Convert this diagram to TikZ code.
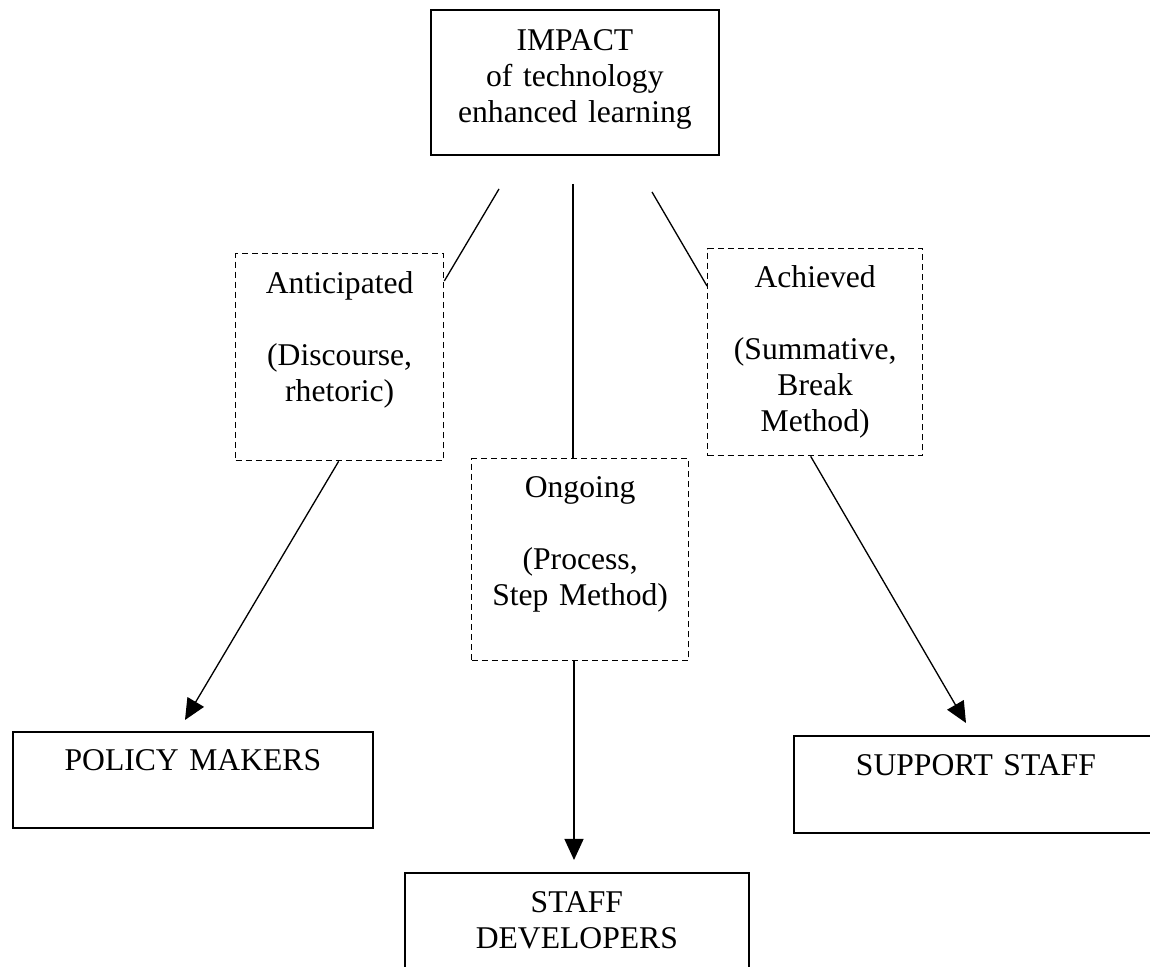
\documentclass[tikz,border=0pt]{standalone}
\usepackage{fontspec}
\setmainfont{Liberation Serif}
\usetikzlibrary{arrows.meta}

\begin{document}
\begin{tikzpicture}[
    font=\fontsize{18}{20.5}\selectfont,
    mainbox/.style={draw,line width=1pt,inner sep=0pt,align=center,anchor=north west},
    modebox/.style={draw,line width=0.75pt,dash pattern=on 3.4pt off 2.3pt,inner sep=0pt,align=center,anchor=north west},
    link/.style={line width=0.75pt},
    toward/.style={line width=0.75pt,-{Triangle[length=0.42cm,width=0.38cm]}}
]
    % Cornice della pagina
    \useasboundingbox (0,0) rectangle (23,19.34);

    % Riquadro principale
    \node[mainbox,text width=5.76cm,text height=0.82cm,text depth=2.08cm] (impact) at (8.60,19.16)
        {IMPACT\\ of technology\\ enhanced learning};

    % Tre modi di valutare l'impatto
    \node[modebox,text width=4.16cm,text height=0.80cm,text depth=3.34cm] (anticipated) at (4.70,14.28)
        {Anticipated\\[20.5pt] (Discourse,\\ rhetoric)};
    \node[modebox,text width=4.34cm,text height=0.78cm,text depth=3.26cm] (ongoing) at (9.42,10.18)
        {Ongoing\\[20.5pt] (Process,\\ Step Method)};
    \node[modebox,text width=4.30cm,text height=0.78cm,text depth=3.36cm] (achieved) at (14.14,14.38)
        {Achieved\\[20.5pt] (Summative,\\ Break\\ Method)};

    % Destinatari
    \node[mainbox,text width=7.20cm,text height=0.78cm,text depth=1.14cm] (policy) at (0.24,4.72)
        {POLICY MAKERS};
    \node[mainbox,text width=6.88cm,text height=0.80cm,text depth=1.60cm] (staff) at (8.08,1.90)
        {STAFF\\ DEVELOPERS};
    \node[mainbox,text width=7.28cm,text height=0.80cm,text depth=1.14cm] (support) at (15.86,4.64)
        {SUPPORT STAFF};

    % Estremi liberi dei collegamenti
    \coordinate (lstart) at (9.98,15.56);
    \coordinate (mstart) at (11.46,15.66);
    \coordinate (rstart) at (13.04,15.50);
    \coordinate (ptip) at (3.70,4.94);
    \coordinate (stip) at (11.48,2.14);
    \coordinate (utip) at (19.32,4.88);

    % Collegamenti dal riquadro principale
    \draw[link] (lstart) -- ([yshift=-0.56cm]anticipated.north east);
    \draw[link] (mstart) -- (mstart |- ongoing.north);
    \draw[link] (rstart) -- ([yshift=-0.76cm]achieved.north west);

    % Frecce verso i destinatari
    \draw[toward] ([xshift=-0.02cm]anticipated.south) -- (ptip);
    \draw[toward] (stip |- ongoing.south) -- (stip);
    \draw[toward] ([xshift=-0.09cm]achieved.south) -- (utip);
\end{tikzpicture}
\end{document}
